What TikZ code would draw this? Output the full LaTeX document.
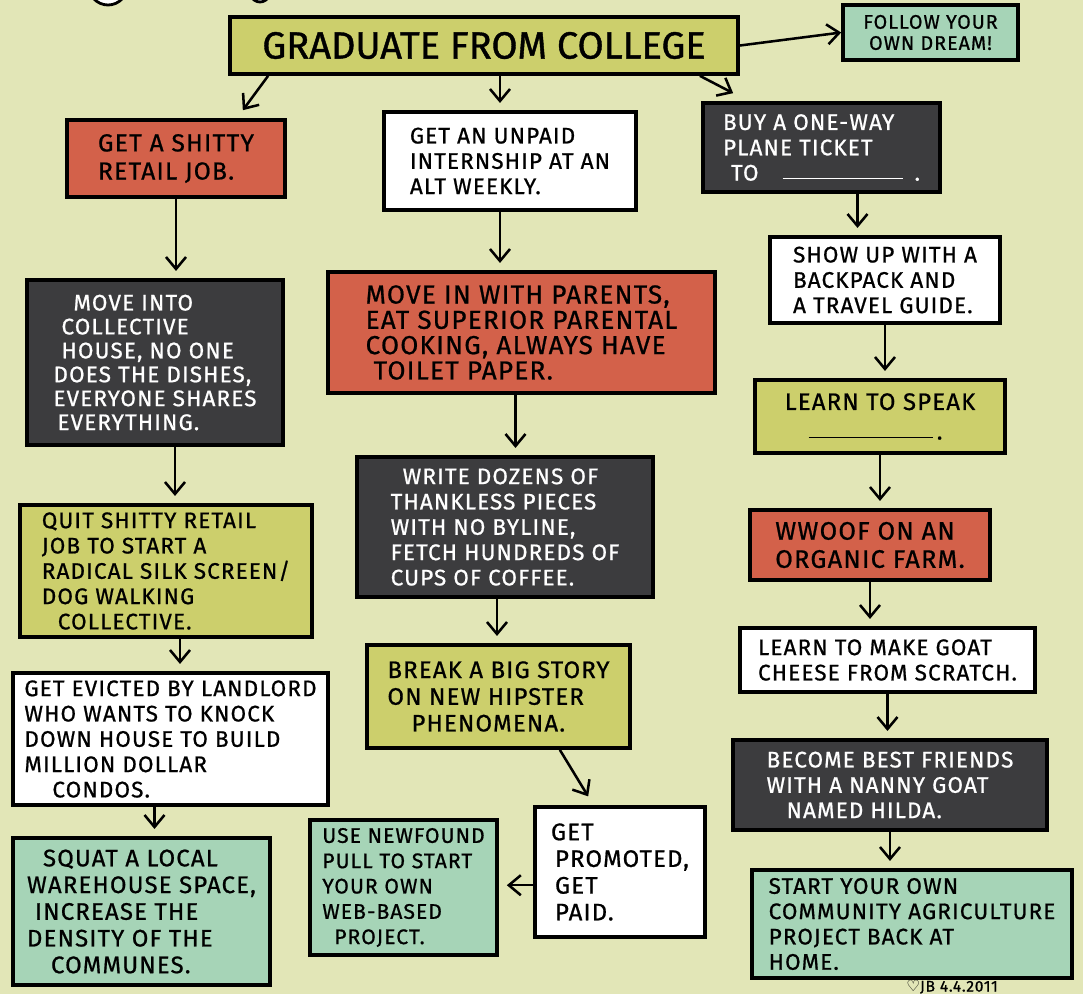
\documentclass[tikz,border=0pt]{standalone}
\usepackage{fontspec}
\setmainfont{Fira Sans}[LetterSpace=5, FakeBold=0.8]
\newfontfamily\titlefont{Fira Sans}[FakeBold=1]
\newfontfamily\symfont{DejaVu Sans}
\usepackage{tikz}
\usetikzlibrary{arrows.meta,calc}

\definecolor{paper}{RGB}{226,230,183}
\definecolor{boxolive}{RGB}{204,207,108}
\definecolor{boxred}{RGB}{211,97,74}
\definecolor{boxdark}{RGB}{60,60,62}
\definecolor{boxteal}{RGB}{166,212,183}

\begin{document}
\begin{tikzpicture}[x=0.025cm, y=-0.025cm,
    card/.style={rectangle, draw=black, line width=2.6pt, inner sep=0pt,
    align=left, text=black, font=\fontsize{16}{18}\selectfont},
    olivecard/.style={card, fill=boxolive},
    redcard/.style={card, fill=boxred},
    darkcard/.style={card, fill=boxdark, text=white},
    whitecard/.style={card, fill=white},
    tealcard/.style={card, fill=boxteal},
    flow/.style={-{Straight Barb[length=0.3cm,width=0.5cm]}, line width=1.8pt, shorten >=0.18cm}]

    \fill[paper] (0,0) rectangle (1083,994);
    \useasboundingbox (0,0) rectangle (1083,994);
    \draw[fill=white, line width=2pt] (108,-16) ellipse [x radius=20, y radius=21];
    \draw[fill=white, line width=2pt] (260,-20) ellipse [x radius=14, y radius=22];

    \node (grad) [olivecard, align=center, minimum width=12.7cm, minimum height=1.425cm,
        font=\titlefont\fontsize{27}{30}\selectfont] at (484,45.5) {GRADUATE FROM COLLEGE};
    \node (dream) [tealcard, align=center, minimum width=4.375cm, minimum height=1.375cm,
        font=\fontsize{14}{15}\selectfont] at (930.5,32.5) {FOLLOW YOUR\\OWN DREAM!};

    \node (retail) [redcard, minimum width=5.45cm, minimum height=1.925cm,
        font=\fontsize{17.5}{20}\selectfont]
        at (176,158.5) {GET A SHITTY\\RETAIL JOB.};
    \node (intern) [whitecard, minimum width=6.3cm, minimum height=2.45cm]
        at (510,161) {GET AN UNPAID\\INTERNSHIP AT AN\\ALT WEEKLY.};
    \node (ticket) [darkcard, minimum width=5.925cm, minimum height=2.225cm]
        at (821.5,147.5) {BUY A ONE-WAY\\PLANE TICKET\\\hspace*{0.2cm}TO\hspace{0.6cm}\rule[0.1ex]{3cm}{1.2pt}\hspace{0.3cm}.};

    \node (collective) [darkcard, minimum width=6.4cm, minimum height=4.125cm,
        font=\fontsize{16}{17}\selectfont]
        at (155,362.5) {\hspace*{0.5cm}MOVE INTO\\\hspace*{0.2cm}COLLECTIVE\\\hspace*{0.2cm}HOUSE, NO ONE\\DOES THE DISHES,\\EVERYONE SHARES\\\hspace*{0.1cm}EVERYTHING.};
    \node (parents) [redcard, minimum width=9.675cm, minimum height=3.025cm,
        font=\fontsize{18.5}{18}\selectfont]
        at (521.5,332.5) {MOVE IN WITH PARENTS,\\EAT SUPERIOR PARENTAL\\COOKING, ALWAYS HAVE\\\hspace*{0.2cm}TOILET PAPER.};
    \node (backpack) [whitecard, minimum width=5.75cm, minimum height=2.15cm]
        at (885,280) {SHOW UP WITH A\\BACKPACK AND\\A TRAVEL GUIDE.};
    \node (speak) [olivecard, minimum width=6.25cm, minimum height=1.825cm,
        font=\fontsize{17}{21}\selectfont]
        at (880,416.5) {LEARN TO SPEAK\hspace{0.3cm}\\\hspace*{0.6cm}\rule[0.1ex]{3.1cm}{1.2pt}\hspace{0.1cm}.};

    \node (dozens) [darkcard, minimum width=7.4cm, minimum height=3.5cm]
        at (505,527) {\hspace*{0.3cm}WRITE DOZENS OF\\THANKLESS PIECES\\WITH NO BYLINE,\\FETCH HUNDREDS OF\\CUPS OF COFFEE.};
    \node (quit) [olivecard, minimum width=7.3cm, minimum height=3.3cm]
        at (166,571) {QUIT SHITTY RETAIL\\JOB TO START A\\RADICAL SILK SCREEN/\\DOG WALKING\\\hspace*{0.4cm}COLLECTIVE.};
    \node (wwoof) [redcard, minimum width=6cm, minimum height=1.75cm,
        font=\fontsize{18}{20}\selectfont]
        at (870,545) {WWOOF ON AN\\ORGANIC FARM.};

    \node (story) [olivecard, minimum width=6.575cm, minimum height=2.575cm,
        font=\fontsize{17}{19}\selectfont]
        at (498.5,696.5) {BREAK A BIG STORY\\ON NEW HIPSTER\\\hspace*{0.6cm}PHENOMENA.};
    \node (cheese) [whitecard, minimum width=7.375cm, minimum height=1.6cm]
        at (887.5,660) {LEARN TO MAKE GOAT\\CHEESE FROM SCRATCH.};
    \node (evicted) [whitecard, minimum width=7.875cm, minimum height=3.3cm]
        at (170.5,739) {GET EVICTED BY LANDLORD\\WHO WANTS TO KNOCK\\DOWN HOUSE TO BUILD\\MILLION DOLLAR\\\hspace*{0.7cm}CONDOS.};
    \node (hilda) [darkcard, minimum width=7.85cm, minimum height=2.25cm]
        at (890,785) {BECOME BEST FRIENDS\\WITH A NANNY GOAT\\\hspace*{0.5cm}NAMED HILDA.};

    \node (promoted) [whitecard, minimum width=4.25cm, minimum height=3.25cm,
        font=\fontsize{17}{19}\selectfont]
        at (620,872) {GET\\\hspace*{0.1cm}PROMOTED,\\\hspace*{0.1cm}GET\\\hspace*{0.1cm}PAID.};
    \node (web) [tealcard, minimum width=4.675cm, minimum height=3.375cm,
        font=\fontsize{15}{18}\selectfont]
        at (403.5,887.5) {USE NEWFOUND\\PULL TO START\\YOUR OWN\\WEB-BASED\\\hspace*{0.3cm}PROJECT.};
    \node (squat) [tealcard, minimum width=6.425cm, minimum height=3.675cm,
        font=\fontsize{17}{19}\selectfont]
        at (141.5,911.5) {\hspace*{0.4cm}SQUAT A LOCAL\\WAREHOUSE SPACE,\\\hspace*{0.2cm}INCREASE THE\\DENSITY OF THE\\\hspace*{0.6cm}COMMUNES.};
    \node (home) [tealcard, minimum width=8cm, minimum height=2.7cm]
        at (912,924) {START YOUR OWN\\COMMUNITY AGRICULTURE\\PROJECT BACK AT\\HOME.};

    \node (sign) [anchor=north west, inner sep=0pt, font=\fontsize{11}{12}\selectfont]
        at (906,980) {{\symfont ♡}JB 4.4.2011};

    \draw[flow, shorten >=0pt] (grad.east) -- (dream.west);
    \draw[flow, shorten >=0pt] ([xshift=1cm]grad.south west) -- ([xshift=-1.1cm,yshift=0.2cm]retail.north east);
    \draw[flow] ([xshift=-0.25cm]intern.north |- grad.south) -- ([xshift=-0.25cm]intern.north);
    \draw[flow, shorten >=0pt] ([xshift=-1cm]grad.south east) -- ([xshift=0.8cm,yshift=0.2cm]ticket.north west);

    \draw[flow] (retail.south) -- (retail.south |- collective.north);
    \draw[flow] ([xshift=-0.25cm]intern.south) -- ([xshift=-0.25cm]intern.south |- parents.north);
    \draw[flow] ([xshift=0.9cm]ticket.south) -- ([xshift=0.9cm]ticket.south |- backpack.north);
    \draw[flow] ([xshift=0.5cm]collective.south) -- ([xshift=0.5cm]collective.south |- quit.north);
    \draw[flow] ([xshift=-0.15cm]parents.south) -- ([xshift=-0.15cm]parents.south |- dozens.north);
    \draw[flow] (backpack.south) -- (backpack.south |- speak.north);
    \draw[flow] (speak.south) -- (speak.south |- wwoof.north);
    \draw[flow] ([xshift=0.35cm]quit.south) -- ([xshift=0.35cm]quit.south |- evicted.north);
    \draw[flow] ([xshift=-0.2cm]dozens.south) -- ([xshift=-0.2cm]dozens.south |- story.north);
    \draw[flow] (wwoof.south) -- (wwoof.south |- cheese.north);
    \draw[flow] ([xshift=-0.4cm]evicted.south) -- ([xshift=-0.4cm]evicted.south |- squat.north);
    \draw[flow] (cheese.south) -- (cheese.south |- hilda.north);
    \draw[flow] (hilda.south) -- (hilda.south |- home.north);
    \draw[flow, shorten >=0pt] ([xshift=-1.8cm]story.south east) -- ([xshift=1.375cm,yshift=0.22cm]promoted.north west);
    \draw[flow, shorten >=0.2cm] ([yshift=-0.33cm]promoted.west) -- ([yshift=-0.33cm]promoted.west -| web.east);
\end{tikzpicture}
\end{document}
